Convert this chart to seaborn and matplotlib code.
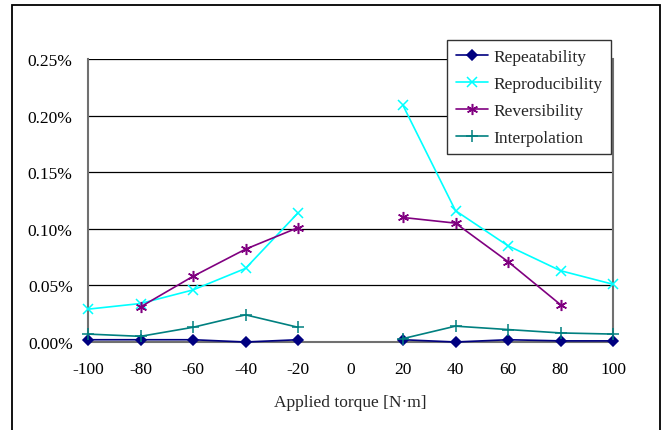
import numpy as np
import pandas as pd
import matplotlib
matplotlib.use("Agg")
import matplotlib.pyplot as plt
import seaborn as sns
from matplotlib.ticker import PercentFormatter
from matplotlib.patches import Rectangle

# ---- data (values in fraction, i.e. 0.001 = 0.10%) ----
torque = [-100, -80, -60, -40, -20, 20, 40, 60, 80, 100]
repeatability = [0.00002, 0.00002, 0.00002, 0.00000, 0.00002,
                 0.00002, 0.00000, 0.00002, 0.00001, 0.00001]
reproducibility = [0.00029, 0.00034, 0.00046, 0.00065, 0.00114,
                   0.00209, 0.00116, 0.00085, 0.00063, 0.00051]
reversibility = [np.nan, 0.00031, 0.00058, 0.00082, 0.00101,
                 0.00110, 0.00105, 0.00071, 0.00033, np.nan]
interpolation = [0.00007, 0.00005, 0.00013, 0.00024, 0.00013,
                 0.00003, 0.00014, 0.00011, 0.00008, 0.00007]
x_ticks = [-100, -80, -60, -40, -20, 0, 20, 40, 60, 80, 100]
y_ticks = [0.0, 0.0005, 0.0010, 0.0015, 0.0020, 0.0025]

series = [
    ("Repeatability", repeatability, "#000080", "D", 5.5),
    ("Reproducibility", reproducibility, "#00FFFF", "x", 7),
    ("Reversibility", reversibility, "#800080", (6, 2, 0), 8),
    ("Interpolation", interpolation, "#008080", "+", 8),
]

sns.set_style("white")
plt.rcParams["font.family"] = ["Liberation Serif", "DejaVu Serif"]
plt.rcParams["font.size"] = 12.5

fig = plt.figure(figsize=(6.64, 4.31), dpi=100)
ax = fig.add_axes([88 / 664, 1 - 343 / 431, (613 - 88) / 664, (343 - 60) / 431])

for name, vals, color, marker, ms in series:
    df = pd.DataFrame({"x": torque, "y": vals}).dropna()
    first = True
    for side in (df[df.x < 0], df[df.x > 0]):
        if side.empty:
            continue
        sns.lineplot(data=side, x="x", y="y", ax=ax, color=color, marker=marker,
                     markersize=ms, markeredgecolor=color, markerfacecolor=color,
                     markeredgewidth=1.1, linewidth=1.2, clip_on=False, zorder=3,
                     label=name if first else "_nolegend_", legend=False)
        first = False

ax.set_xlim(-100, 100)
ax.set_ylim(0, 0.0025)
ax.set_xticks(x_ticks)
ax.set_xticklabels([str(t) for t in x_ticks])
ax.set_yticks(y_ticks)
ax.yaxis.set_major_formatter(PercentFormatter(xmax=1, decimals=2))
ax.grid(axis="y", color="black", linewidth=0.9)
ax.grid(axis="x", visible=False)
ax.set_axisbelow(True)

for s in ("left", "bottom", "right"):
    ax.spines[s].set_color("#707070")
    ax.spines[s].set_linewidth(1.5)
ax.spines["top"].set_visible(False)
ax.tick_params(axis="both", which="major", direction="out", length=6,
               width=1.2, color="#404040", labelsize=12.5, labelcolor="black")
ax.tick_params(axis="y", pad=5)
ax.tick_params(axis="x", pad=8)
ax.set_xlabel("Applied torque [N·m]", fontsize=12.5, labelpad=12)
ax.set_ylabel("")

leg = ax.legend(loc="upper right", bbox_to_anchor=(611 / 664, 1 - 41 / 431),
                bbox_transform=fig.transFigure, borderaxespad=0,
                frameon=True, fancybox=False, framealpha=1, edgecolor="#333333",
                fontsize=12.5, handlelength=1.85, handletextpad=0.3,
                labelspacing=0.62, borderpad=0.5)
leg.get_frame().set_linewidth(1.0)
leg.set_zorder(5)

fig.add_artist(Rectangle((12 / 664, -0.1), (660 - 12) / 664, 1.1 - 6 / 431,
                         transform=fig.transFigure, fill=False,
                         edgecolor="black", linewidth=1.3))

fig.savefig("out.png", dpi=100)
